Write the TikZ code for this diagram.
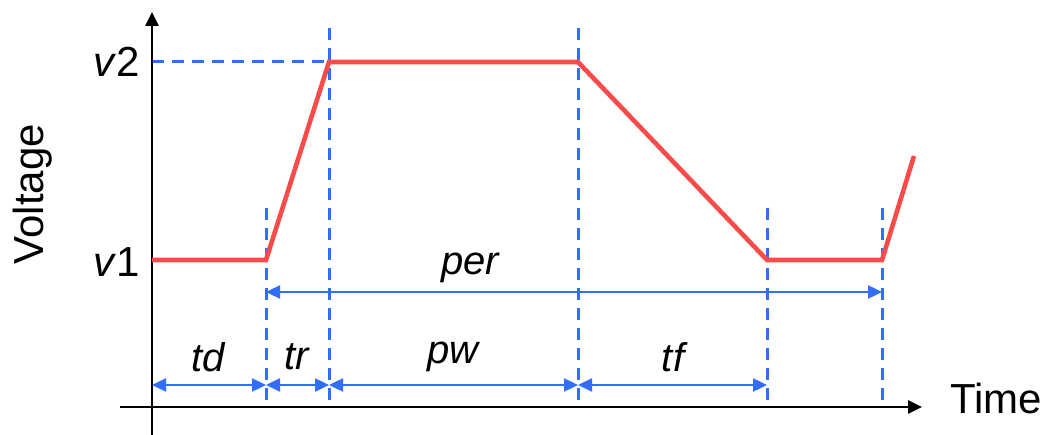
\documentclass[tikz,border=0pt]{standalone}
\usepackage{fontspec}
\setmainfont{Liberation Sans}
\usetikzlibrary{arrows.meta}
\definecolor{sigred}{RGB}{250,75,75}
\definecolor{dimblue}{RGB}{50,110,250}
\tikzset{
  axis/.style={line width=2.6pt,-{Triangle[length=14pt,width=13pt]}},
  sig/.style={line width=4.6pt,sigred,line join=miter},
  guide/.style={line width=3pt,dimblue,dash pattern=on 12pt off 8pt},
  dimline/.style={line width=2.4pt,dimblue,{Triangle[length=14pt,width=13pt]}-{Triangle[length=14pt,width=13pt]}},
  lbl/.style={font=\fontsize{40}{44}\selectfont\itshape,inner sep=0pt},
  axlbl/.style={font=\fontsize{42}{46}\selectfont,inner sep=0pt}
}
\begin{document}
\begin{tikzpicture}[x=1pt,y=-1pt]
\useasboundingbox (0,0) rectangle (1046,435);
% coordinates
\coordinate (ytop) at (152,12);
\coordinate (ybot) at (152,435);
\coordinate (xl) at (120,407);
\coordinate (xr) at (922,407);
\coordinate (p0) at (152,260);
\coordinate (p1) at (266,260);
\coordinate (p2) at (329,62);
\coordinate (p3) at (578,62);
\coordinate (p4) at (767,260);
\coordinate (p5) at (882,260);
\coordinate (p6) at (914,156);
\coordinate (yv2) at (152,62);
% guide lines
\draw[guide] (yv2) -- (p2);
\draw[guide] (266,208) coordinate (g1t) -- (266,407) coordinate (g1b);
\draw[guide] (329,28) coordinate (g2t) -- (329,407) coordinate (g2b);
\draw[guide] (578,28) coordinate (g3t) -- (578,407) coordinate (g3b);
\draw[guide] (767,208) coordinate (g4t) -- (767,407) coordinate (g4b);
\draw[guide] (882,208) coordinate (g5t) -- (882,407) coordinate (g5b);
% axes
\draw[axis] (ybot) -- (ytop);
\draw[axis] (xl) -- (xr);
% signal
\draw[sig] (p0) -- (p1) -- (p2) -- (p3) -- (p4) -- (p5) -- (p6);
% dimension lines
\coordinate (d0) at (152,385);
\coordinate (d1) at (266,385);
\coordinate (d2) at (329,385);
\coordinate (d3) at (578,385);
\coordinate (d4) at (767,385);
\coordinate (e1) at (266,292);
\coordinate (e2) at (882,292);
\draw[dimline] (d0) -- (d1);
\draw[dimline] (d1) -- (d2);
\draw[dimline] (d2) -- (d3);
\draw[dimline] (d3) -- (d4);
\draw[dimline] (e1) -- (e2);
% labels
\node[lbl] (td) at (208,357) {td};
\node[lbl] (tr) at (297,357) {tr};
\node[lbl] (pw) at (453,357) {pw};
\node[lbl] (tf) at (673,357) {tf};
\node[lbl] (per) at (470,268) {per};
\node[axlbl] (v1) at (117,262) {\textit{v}1};
\node[axlbl] (v2) at (117,62) {\textit{v}2};
\node[axlbl,rotate=90] (volt) at (33,194) {Voltage};
\node[axlbl] (time) at (996,398) {Time};
\end{tikzpicture}
\end{document}
